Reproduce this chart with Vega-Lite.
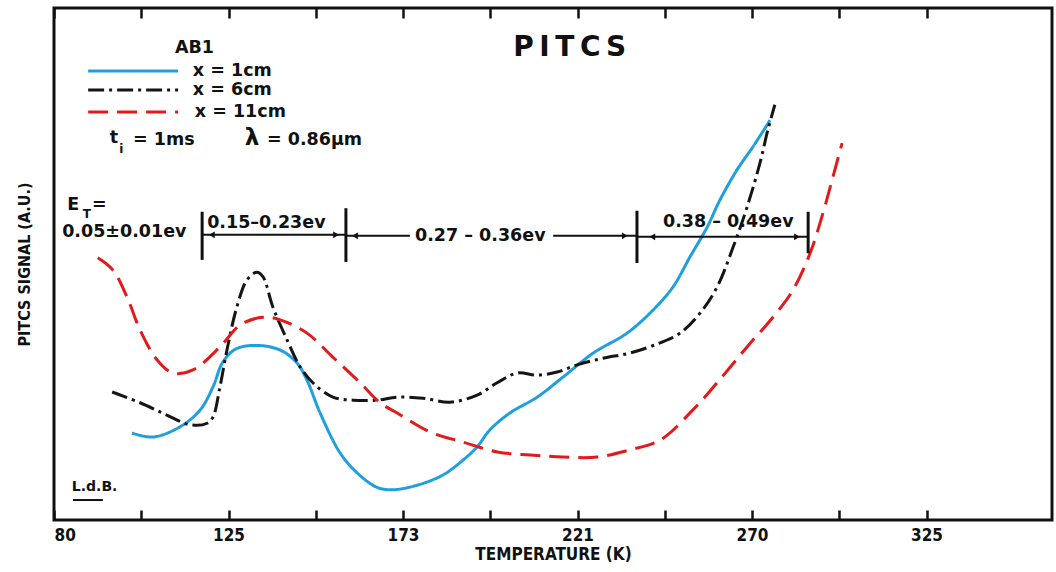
{
  "$schema": "https://vega.github.io/schema/vega-lite/v6.json",
  "width": 998,
  "height": 512,
  "autosize": "none",
  "padding": {"left": 54, "top": 8, "right": 4, "bottom": 52},
  "background": "white",
  "config": {
    "view": {"stroke": "#111111", "strokeWidth": 3},
    "font": "DejaVu Sans",
    "axisY": {"ticks": false, "labels": false, "domain": false, "grid": false, "title": "PITCS SIGNAL (A.U.)", "titleFont": "DejaVu Sans Condensed", "titleFontWeight": "bold", "titleFontSize": 16, "titleColor": "#111111", "titlePadding": 22},
    "text": {"font": "DejaVu Sans", "fontWeight": "bold", "color": "#111111"}
  },
  "datasets": {
    "curves": [
      {"series": "x = 1cm", "T": 100.1, "S": 17.0}, {"series": "x = 1cm", "T": 105.5, "S": 16.2}, {"series": "x = 1cm", "T": 112.5, "S": 18.2}, {"series": "x = 1cm", "T": 117.7, "S": 21.5}, {"series": "x = 1cm", "T": 121.0, "S": 26.0}, {"series": "x = 1cm", "T": 123.5, "S": 30.8}, {"series": "x = 1cm", "T": 127.0, "S": 33.4}, {"series": "x = 1cm", "T": 132.8, "S": 34.1}, {"series": "x = 1cm", "T": 139.2, "S": 33.2}, {"series": "x = 1cm", "T": 143.8, "S": 30.7}, {"series": "x = 1cm", "T": 146.6, "S": 27.3}, {"series": "x = 1cm", "T": 150.2, "S": 20.9}, {"series": "x = 1cm", "T": 155.7, "S": 13.1}, {"series": "x = 1cm", "T": 160.4, "S": 9.2}, {"series": "x = 1cm", "T": 165.8, "S": 6.4}, {"series": "x = 1cm", "T": 170.0, "S": 5.9}, {"series": "x = 1cm", "T": 176.9, "S": 6.8}, {"series": "x = 1cm", "T": 184.0, "S": 8.8}, {"series": "x = 1cm", "T": 189.5, "S": 11.7}, {"series": "x = 1cm", "T": 193.4, "S": 14.3}, {"series": "x = 1cm", "T": 196.9, "S": 17.6}, {"series": "x = 1cm", "T": 202.4, "S": 20.9}, {"series": "x = 1cm", "T": 209.9, "S": 24.0}, {"series": "x = 1cm", "T": 217.0, "S": 27.9}, {"series": "x = 1cm", "T": 225.4, "S": 32.6}, {"series": "x = 1cm", "T": 234.9, "S": 36.5}, {"series": "x = 1cm", "T": 242.2, "S": 41.0}, {"series": "x = 1cm", "T": 247.8, "S": 45.5}, {"series": "x = 1cm", "T": 252.6, "S": 51.4}, {"series": "x = 1cm", "T": 257.4, "S": 57.2}, {"series": "x = 1cm", "T": 261.0, "S": 62.5}, {"series": "x = 1cm", "T": 265.8, "S": 68.4}, {"series": "x = 1cm", "T": 270.3, "S": 72.9}, {"series": "x = 1cm", "T": 275.7, "S": 78.1},
      {"series": "x = 6cm", "T": 95.0, "S": 25.0}, {"series": "x = 6cm", "T": 102.2, "S": 22.9}, {"series": "x = 6cm", "T": 109.1, "S": 20.5}, {"series": "x = 6cm", "T": 115.1, "S": 18.6}, {"series": "x = 6cm", "T": 119.5, "S": 18.9}, {"series": "x = 6cm", "T": 121.0, "S": 20.1}, {"series": "x = 6cm", "T": 122.8, "S": 26.0}, {"series": "x = 6cm", "T": 124.6, "S": 33.2}, {"series": "x = 6cm", "T": 127.3, "S": 41.6}, {"series": "x = 6cm", "T": 130.1, "S": 46.9}, {"series": "x = 6cm", "T": 132.8, "S": 48.4}, {"series": "x = 6cm", "T": 134.5, "S": 47.5}, {"series": "x = 6cm", "T": 137.2, "S": 41.6}, {"series": "x = 6cm", "T": 141.1, "S": 35.2}, {"series": "x = 6cm", "T": 144.7, "S": 29.9}, {"series": "x = 6cm", "T": 148.2, "S": 26.8}, {"series": "x = 6cm", "T": 153.7, "S": 24.0}, {"series": "x = 6cm", "T": 159.3, "S": 23.4}, {"series": "x = 6cm", "T": 165.8, "S": 23.4}, {"series": "x = 6cm", "T": 171.4, "S": 24.0}, {"series": "x = 6cm", "T": 178.5, "S": 23.8}, {"series": "x = 6cm", "T": 185.9, "S": 23.0}, {"series": "x = 6cm", "T": 193.4, "S": 24.4}, {"series": "x = 6cm", "T": 198.9, "S": 26.8}, {"series": "x = 6cm", "T": 204.4, "S": 28.7}, {"series": "x = 6cm", "T": 209.9, "S": 28.3}, {"series": "x = 6cm", "T": 215.4, "S": 28.9}, {"series": "x = 6cm", "T": 220.9, "S": 30.3}, {"series": "x = 6cm", "T": 228.2, "S": 31.6}, {"series": "x = 6cm", "T": 235.7, "S": 32.6}, {"series": "x = 6cm", "T": 244.2, "S": 34.6}, {"series": "x = 6cm", "T": 249.8, "S": 36.5}, {"series": "x = 6cm", "T": 255.4, "S": 40.4}, {"series": "x = 6cm", "T": 260.2, "S": 45.5}, {"series": "x = 6cm", "T": 264.7, "S": 53.3}, {"series": "x = 6cm", "T": 268.6, "S": 61.1}, {"series": "x = 6cm", "T": 272.5, "S": 69.7}, {"series": "x = 6cm", "T": 275.0, "S": 76.2}, {"series": "x = 6cm", "T": 277.2, "S": 81.1},
      {"series": "x = 11cm", "T": 91.3, "S": 51.2}, {"series": "x = 11cm", "T": 95.2, "S": 48.8}, {"series": "x = 11cm", "T": 98.8, "S": 43.6}, {"series": "x = 11cm", "T": 102.2, "S": 37.1}, {"series": "x = 11cm", "T": 106.6, "S": 31.25}, {"series": "x = 11cm", "T": 110.7, "S": 28.7}, {"series": "x = 11cm", "T": 115.8, "S": 29.3}, {"series": "x = 11cm", "T": 122.8, "S": 33.8}, {"series": "x = 11cm", "T": 128.2, "S": 38.1}, {"series": "x = 11cm", "T": 134.5, "S": 39.6}, {"series": "x = 11cm", "T": 139.2, "S": 39.1}, {"series": "x = 11cm", "T": 146.6, "S": 36.5}, {"series": "x = 11cm", "T": 153.7, "S": 31.8}, {"series": "x = 11cm", "T": 161.2, "S": 26.8}, {"series": "x = 11cm", "T": 166.7, "S": 22.9}, {"series": "x = 11cm", "T": 171.4, "S": 20.9}, {"series": "x = 11cm", "T": 180.4, "S": 17.2}, {"series": "x = 11cm", "T": 189.5, "S": 15.2}, {"series": "x = 11cm", "T": 198.9, "S": 13.3}, {"series": "x = 11cm", "T": 208.0, "S": 12.7}, {"series": "x = 11cm", "T": 217.0, "S": 12.3}, {"series": "x = 11cm", "T": 226.5, "S": 12.3}, {"series": "x = 11cm", "T": 235.7, "S": 13.7}, {"series": "x = 11cm", "T": 244.2, "S": 15.6}, {"series": "x = 11cm", "T": 253.4, "S": 21.5}, {"series": "x = 11cm", "T": 260.2, "S": 26.8}, {"series": "x = 11cm", "T": 268.6, "S": 33.8}, {"series": "x = 11cm", "T": 276.6, "S": 39.6}, {"series": "x = 11cm", "T": 282.9, "S": 44.9}, {"series": "x = 11cm", "T": 288.3, "S": 52.1}, {"series": "x = 11cm", "T": 292.4, "S": 60.0}, {"series": "x = 11cm", "T": 295.5, "S": 67.0}, {"series": "x = 11cm", "T": 298.4, "S": 73.6}
    ],
    "legendLines": [
      {"series": "x = 1cm", "T": 88.8, "T2": 112.0, "S": 87.7},
      {"series": "x = 6cm", "T": 88.8, "T2": 112.0, "S": 84.0},
      {"series": "x = 11cm", "T": 88.8, "T2": 112.0, "S": 79.7}
    ],
    "hrules": [
      {"T": 118.2, "T2": 157.3, "S": 55.7},
      {"T": 157.3, "T2": 174.9, "S": 55.5},
      {"T": 214.3, "T2": 237.7, "S": 55.5},
      {"T": 237.7, "T2": 287.7, "S": 55.3},
      {"T": 84.9, "T2": 92.6, "S": 3.9}
    ],
    "vrules": [
      {"T": 118.2, "S": 60.2, "S2": 50.8},
      {"T": 157.3, "S": 60.9, "S2": 50.4},
      {"T": 237.7, "S": 60.4, "S2": 50.2},
      {"T": 287.7, "S": 60.2, "S2": 52.1}
    ],
    "heads": [
      {"T": 120.7, "S": 55.7, "dir": "L"},
      {"T": 154.6, "S": 55.7, "dir": "R"},
      {"T": 159.8, "S": 55.5, "dir": "L"},
      {"T": 234.3, "S": 55.5, "dir": "R"},
      {"T": 242.0, "S": 55.3, "dir": "L"},
      {"T": 284.2, "S": 55.3, "dir": "R"}
    ],
    "bigText": [
      {"label": "AB1", "T": 111.2, "S": 92.2},
      {"label": "x = 1cm", "T": 115.8, "S": 87.7},
      {"label": "x = 6cm", "T": 115.8, "S": 84.0},
      {"label": "x = 11cm", "T": 116.3, "S": 79.7},
      {"label": "t", "T": 94.4, "S": 74.6},
      {"label": "= 1ms", "T": 100.4, "S": 74.2},
      {"label": "= 0.86μm", "T": 135.6, "S": 74.2},
      {"label": "E", "T": 83.4, "S": 61.5},
      {"label": "=", "T": 89.8, "S": 61.5},
      {"label": "0.05±0.01ev", "T": 82.1, "S": 56.25},
      {"label": "0.15–0.23ev", "T": 119.5, "S": 58.0},
      {"label": "0.27 – 0.36ev", "T": 176.3, "S": 55.5},
      {"label": "0.38 – 0.49ev", "T": 245.0, "S": 58.2}
    ],
    "subText": [
      {"label": "T", "T": 87.4, "S": 59.8},
      {"label": "i", "T": 96.8, "S": 72.5}
    ],
    "midText": [
      {"label": "λ", "T": 129.5, "S": 74.6}
    ],
    "titleText": [
      {"label": "P\u2009I\u2009T\u2009C\u2009S", "T": 203.3, "S": 92.2}
    ],
    "signText": [
      {"label": "L.d.B.", "T": 84.6, "S": 6.4}
    ]
  },
  "layer": [
    {
      "data": {"name": "curves"},
      "mark": {"type": "line", "interpolate": "catmull-rom", "strokeWidth": 3, "strokeCap": "butt"},
      "encoding": {
        "x": {"field": "T", "type": "quantitative",
          "scale": {"domain": [80, 125, 173, 221, 270, 325, 364.6], "range": [0, 174.5, 349, 523.5, 698, 872.5, 998], "nice": false, "zero": false},
          "axis": {"orient": "bottom", "values": [80, 102.5, 125, 149, 173, 197, 221, 245.5, 270, 297.5, 325],
            "labelExpr": "indexof([80,125,173,221,270,325], datum.value) >= 0 ? datum.label : ''",
            "tickSize": -10, "tickWidth": 2.5, "tickColor": "#111111", "domain": false, "grid": false,
            "labelFont": "DejaVu Sans Condensed", "labelFontWeight": "bold", "labelFontSize": 17, "labelColor": "#111111", "labelPadding": 17,
            "title": "TEMPERATURE (K)", "titleFont": "DejaVu Sans Condensed", "titleFontWeight": "bold", "titleFontSize": 17, "titleColor": "#111111", "titlePadding": 3}},
        "y": {"field": "S", "type": "quantitative", "title": "PITCS SIGNAL (A.U.)",
          "scale": {"domain": [0, 100], "nice": false, "zero": false}},
        "color": {"field": "series", "type": "nominal", "scale": {"domain": ["x = 1cm", "x = 6cm", "x = 11cm"], "range": ["#1f9fde", "#151515", "#e3191c"]}, "legend": null},
        "strokeDash": {"field": "series", "type": "nominal", "scale": {"domain": ["x = 1cm", "x = 6cm", "x = 11cm"], "range": [[1, 0], [16, 5, 3, 5], [20, 9]]}, "legend": null}
      }
    },
    {
      "data": {"name": "legendLines"},
      "mark": {"type": "rule", "strokeWidth": 3, "strokeCap": "butt"},
      "encoding": {
        "x": {"field": "T", "type": "quantitative",
          "scale": {"domain": [80, 125, 173, 221, 270, 325, 364.6], "range": [0, 174.5, 349, 523.5, 698, 872.5, 998], "nice": false, "zero": false},
          "axis": {"orient": "top", "values": [80, 102.5, 125, 149, 173, 197, 221, 245.5, 270, 297.5, 325], "labels": false,
            "tickSize": -10, "tickWidth": 2.5, "tickColor": "#111111", "domain": false, "grid": false, "title": null}},
        "x2": {"field": "T2"},
        "y": {"field": "S", "type": "quantitative", "title": "PITCS SIGNAL (A.U.)", "scale": {"domain": [0, 100], "nice": false, "zero": false}},
        "color": {"field": "series", "type": "nominal", "scale": {"domain": ["x = 1cm", "x = 6cm", "x = 11cm"], "range": ["#1f9fde", "#151515", "#e3191c"]}, "legend": null},
        "strokeDash": {"field": "series", "type": "nominal", "scale": {"domain": ["x = 1cm", "x = 6cm", "x = 11cm"], "range": [[1, 0], [16, 5, 3, 5], [20, 9]]}, "legend": null}
      }
    },
    {
      "data": {"name": "hrules"},
      "mark": {"type": "rule", "strokeWidth": 2, "color": "#111111"},
      "encoding": {
        "x": {"field": "T", "type": "quantitative", "scale": {"domain": [80, 125, 173, 221, 270, 325, 364.6], "range": [0, 174.5, 349, 523.5, 698, 872.5, 998], "nice": false, "zero": false}, "axis": null},
        "x2": {"field": "T2"},
        "y": {"field": "S", "type": "quantitative", "title": "PITCS SIGNAL (A.U.)", "scale": {"domain": [0, 100], "nice": false, "zero": false}}
      }
    },
    {
      "data": {"name": "vrules"},
      "mark": {"type": "rule", "strokeWidth": 3, "color": "#111111"},
      "encoding": {
        "x": {"field": "T", "type": "quantitative", "scale": {"domain": [80, 125, 173, 221, 270, 325, 364.6], "range": [0, 174.5, 349, 523.5, 698, 872.5, 998], "nice": false, "zero": false}, "axis": null},
        "y": {"field": "S", "type": "quantitative", "title": "PITCS SIGNAL (A.U.)", "scale": {"domain": [0, 100], "nice": false, "zero": false}},
        "y2": {"field": "S2"}
      }
    },
    {
      "data": {"name": "heads"},
      "mark": {"type": "point", "filled": true, "size": 45, "color": "#111111", "opacity": 1},
      "encoding": {
        "x": {"field": "T", "type": "quantitative", "scale": {"domain": [80, 125, 173, 221, 270, 325, 364.6], "range": [0, 174.5, 349, 523.5, 698, 872.5, 998], "nice": false, "zero": false}, "axis": null},
        "y": {"field": "S", "type": "quantitative", "title": "PITCS SIGNAL (A.U.)", "scale": {"domain": [0, 100], "nice": false, "zero": false}},
        "shape": {"field": "dir", "type": "nominal", "scale": {"domain": ["L", "R"], "range": ["triangle-left", "triangle-right"]}, "legend": null}
      }
    },
    {
      "data": {"name": "bigText"},
      "mark": {"type": "text", "fontSize": 17.5, "fontWeight": "bold", "align": "left", "baseline": "middle", "color": "#111111"},
      "encoding": {
        "x": {"field": "T", "type": "quantitative", "scale": {"domain": [80, 125, 173, 221, 270, 325, 364.6], "range": [0, 174.5, 349, 523.5, 698, 872.5, 998], "nice": false, "zero": false}, "axis": null},
        "y": {"field": "S", "type": "quantitative", "title": "PITCS SIGNAL (A.U.)", "scale": {"domain": [0, 100], "nice": false, "zero": false}},
        "text": {"field": "label"}
      }
    },
    {
      "data": {"name": "subText"},
      "mark": {"type": "text", "fontSize": 12, "fontWeight": "bold", "align": "left", "baseline": "middle", "color": "#111111"},
      "encoding": {
        "x": {"field": "T", "type": "quantitative", "scale": {"domain": [80, 125, 173, 221, 270, 325, 364.6], "range": [0, 174.5, 349, 523.5, 698, 872.5, 998], "nice": false, "zero": false}, "axis": null},
        "y": {"field": "S", "type": "quantitative", "title": "PITCS SIGNAL (A.U.)", "scale": {"domain": [0, 100], "nice": false, "zero": false}},
        "text": {"field": "label"}
      }
    },
    {
      "data": {"name": "midText"},
      "mark": {"type": "text", "fontSize": 23, "fontWeight": "bold", "align": "left", "baseline": "middle", "color": "#111111"},
      "encoding": {
        "x": {"field": "T", "type": "quantitative", "scale": {"domain": [80, 125, 173, 221, 270, 325, 364.6], "range": [0, 174.5, 349, 523.5, 698, 872.5, 998], "nice": false, "zero": false}, "axis": null},
        "y": {"field": "S", "type": "quantitative", "title": "PITCS SIGNAL (A.U.)", "scale": {"domain": [0, 100], "nice": false, "zero": false}},
        "text": {"field": "label"}
      }
    },
    {
      "data": {"name": "titleText"},
      "mark": {"type": "text", "fontSize": 28, "fontWeight": "bold", "align": "left", "baseline": "middle", "color": "#111111"},
      "encoding": {
        "x": {"field": "T", "type": "quantitative", "scale": {"domain": [80, 125, 173, 221, 270, 325, 364.6], "range": [0, 174.5, 349, 523.5, 698, 872.5, 998], "nice": false, "zero": false}, "axis": null},
        "y": {"field": "S", "type": "quantitative", "title": "PITCS SIGNAL (A.U.)", "scale": {"domain": [0, 100], "nice": false, "zero": false}},
        "text": {"field": "label"}
      }
    },
    {
      "data": {"name": "signText"},
      "mark": {"type": "text", "fontSize": 14, "fontWeight": "bold", "align": "left", "baseline": "middle", "color": "#111111"},
      "encoding": {
        "x": {"field": "T", "type": "quantitative", "scale": {"domain": [80, 125, 173, 221, 270, 325, 364.6], "range": [0, 174.5, 349, 523.5, 698, 872.5, 998], "nice": false, "zero": false}, "axis": null},
        "y": {"field": "S", "type": "quantitative", "title": "PITCS SIGNAL (A.U.)", "scale": {"domain": [0, 100], "nice": false, "zero": false}},
        "text": {"field": "label"}
      }
    }
  ]
}
